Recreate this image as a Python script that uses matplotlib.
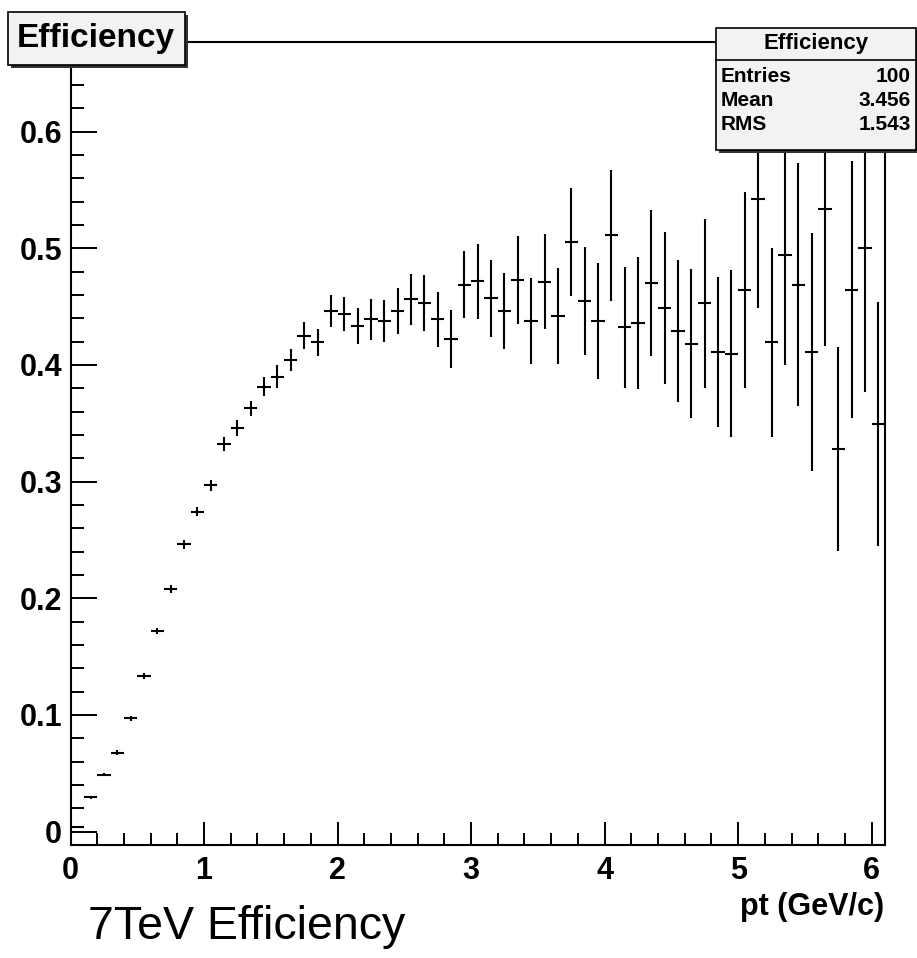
import numpy as np
import matplotlib
matplotlib.use("Agg")
import matplotlib.pyplot as plt
from matplotlib.patches import Rectangle
from matplotlib.ticker import MultipleLocator
from matplotlib.lines import Line2D

plt.rcParams['font.family'] = ['Liberation Sans', 'DejaVu Sans']

# ================================
# data
# ================================
bin_lo, bin_w, n_bins = 0.0, 0.1, 61
pt = bin_lo + bin_w * (np.arange(n_bins) + 0.5)

eff = [0.004, 0.0295, 0.049, 0.0677, 0.0972, 0.1334, 0.172, 0.208, 0.2463, 0.2742,
       0.2968, 0.3325, 0.3457, 0.3628, 0.3813, 0.390, 0.4042, 0.425, 0.4194, 0.4462,
       0.4436, 0.4335, 0.439, 0.4376, 0.4462, 0.4562, 0.4533, 0.439, 0.4222, 0.4687,
       0.4716, 0.4573, 0.4462, 0.4728, 0.4376, 0.4713, 0.4419, 0.5053, 0.4545, 0.4376,
       0.511, 0.4322, 0.4362, 0.470, 0.449, 0.429, 0.418, 0.453, 0.411, 0.4096,
       0.4645, 0.542, 0.4196, 0.494, 0.4687, 0.411, 0.5336, 0.328, 0.4645, 0.4999,
       0.3494]

eff_err = [0.001, 0.0015, 0.0017, 0.002, 0.0023, 0.0025, 0.0029, 0.0036, 0.0037, 0.004,
           0.0046, 0.006, 0.0068, 0.0066, 0.0083, 0.0096, 0.0097, 0.0116, 0.0116, 0.014,
           0.0143, 0.0152, 0.0176, 0.018, 0.0196, 0.0218, 0.024, 0.0233, 0.0247, 0.0287,
           0.032, 0.033, 0.0324, 0.0374, 0.0371, 0.0407, 0.0414, 0.0464, 0.0464, 0.0493,
           0.0564, 0.052, 0.0565, 0.0626, 0.065, 0.0606, 0.0638, 0.0724, 0.0646, 0.0717,
           0.084, 0.0934, 0.081, 0.0937, 0.104, 0.1017, 0.117, 0.0871, 0.110, 0.1234,
           0.1047]

stat_names = ["Entries", "Mean", "RMS"]
stat_values = ["100", "3.456", "1.543"]

W, H = 917, 958
fig = plt.figure(figsize=(W / 100, H / 100), dpi=100)

def fx(px):
    return px / W

def fy(py):
    return 1 - py / H

# axes frame in pixels: left 70.5, right 885, top 42, bottom 845
ax = fig.add_axes([fx(70.5), fy(845), fx(885) - fx(70.5), fy(42) - fy(845)])

ax.errorbar(pt, eff, yerr=eff_err, xerr=bin_w / 2, fmt='none',
            ecolor='black', elinewidth=1.5, capsize=0)

ax.set_xlim(0, 6.1)
ax.set_ylim(-0.0114, 0.6767)

for s in ax.spines.values():
    s.set_linewidth(1.5)

ax.xaxis.set_major_locator(MultipleLocator(1))
ax.xaxis.set_minor_locator(MultipleLocator(0.2))
ax.yaxis.set_major_locator(MultipleLocator(0.1))
ax.yaxis.set_minor_locator(MultipleLocator(0.02))
ax.tick_params(axis='x', which='major', direction='in', length=16.5, width=1.4,
               pad=8, labelsize=22)
ax.tick_params(axis='x', which='minor', direction='in', length=8.6, width=1.4)
ax.tick_params(axis='y', which='major', direction='in', length=18.7, width=1.4,
               pad=6, labelsize=22)
ax.tick_params(axis='y', which='minor', direction='in', length=9.4, width=1.4)
ax.set_yticks([0, 0.1, 0.2, 0.3, 0.4, 0.5, 0.6])
ax.set_yticklabels(['0', '0.1', '0.2', '0.3', '0.4', '0.5', '0.6'])
for lab in ax.get_xticklabels() + ax.get_yticklabels():
    lab.set_fontweight('bold')

fig.text(fx(884), fy(907), "pt (GeV/c)", ha='right', va='center',
         fontsize=22, fontweight='bold')
fig.text(fx(88), fy(927), "7TeV Efficiency", ha='left', va='center', fontsize=33.5)

# ROOT style box with shadow
def root_box(x0, y0, x1, y1):
    shadow = Rectangle((fx(x0 + 3), fy(y1 + 3)), fx(x1) - fx(x0), fy(y0) - fy(y1),
                       transform=fig.transFigure, facecolor='#333333',
                       edgecolor='none', zorder=5)
    box = Rectangle((fx(x0), fy(y1)), fx(x1) - fx(x0), fy(y0) - fy(y1),
                    transform=fig.transFigure, facecolor='#f2f2f2',
                    edgecolor='black', linewidth=1.2, zorder=6)
    fig.add_artist(shadow)
    fig.add_artist(box)

# title box
root_box(8, 12, 185, 65)
fig.text(fx(96), fy(39), "Efficiency", ha='center', va='center',
         fontsize=24, fontweight='bold', zorder=7)

# stats box
root_box(716, 28, 916, 150)
fig.add_artist(Line2D([fx(716), fx(916)], [fy(60), fy(60)],
                      transform=fig.transFigure, color='black', linewidth=1.2, zorder=7))
fig.text(fx(816), fy(44), "Efficiency", ha='center', va='center',
         fontsize=16, fontweight='bold', zorder=7)
for i, (name, val) in enumerate(zip(stat_names, stat_values)):
    yy = fy(76 + 24 * i)
    fig.text(fx(721), yy, name, ha='left', va='center',
             fontsize=15, fontweight='bold', zorder=7)
    fig.text(fx(911), yy, val, ha='right', va='center',
             fontsize=15, fontweight='bold', zorder=7)

fig.savefig("out.png", dpi=100)
